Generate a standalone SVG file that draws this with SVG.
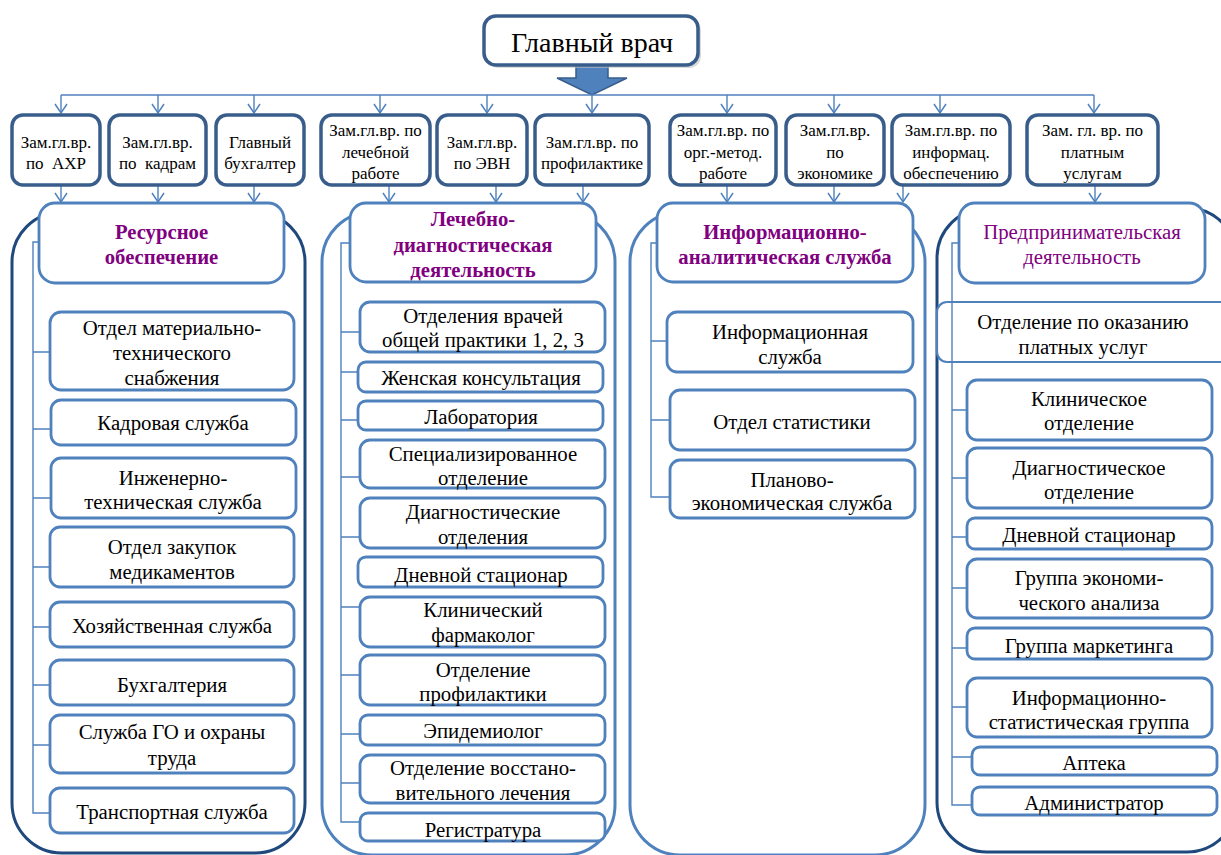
<svg xmlns="http://www.w3.org/2000/svg" width="1221" height="855" viewBox="0 0 1221 855">
<defs>
<style>
text{font-family:"Liberation Serif","Times New Roman",serif;fill:#000;text-anchor:middle}
.t{font-size:17px}
.i{font-size:20.8px}
.h{font-size:20.7px;fill:#800080;font-weight:bold}
.hn{font-size:20.8px;fill:#800080}
.top{fill:#fff;stroke:#385d8a;stroke-width:3.5}
.item{fill:#fff;stroke:#4f81bd;stroke-width:2.8}
.head{fill:#fff;stroke:#4f81bd;stroke-width:2.8}
.cd{fill:none;stroke:#1f497d;stroke-width:3}
.cl{fill:none;stroke:#4f81bd;stroke-width:3}
.ln{fill:none;stroke:#4f81bd;stroke-width:1.4}
.ar{fill:none;stroke:#4f81bd;stroke-width:1.4;marker-end:url(#v)}
</style>
<marker id="v" markerUnits="userSpaceOnUse" markerWidth="14" markerHeight="16" refX="10" refY="7" orient="auto" viewBox="0 0 14 14">
<path d="M1,1 L10,7 L1,13" fill="none" stroke="#4f81bd" stroke-width="1.5"/>
</marker>
</defs>
<rect width="1221" height="855" fill="#fff"/>

<!-- containers -->
<g id="containers">
<rect class="cd" x="12" y="212" width="293" height="641" rx="50"/>
<rect class="cl" x="322" y="212" width="293" height="643" rx="50"/>
<rect class="cl" x="630" y="212" width="295" height="643" rx="50"/>
<rect class="cd" x="937" y="208" width="300" height="644" rx="50"/>
</g>

<!-- connectors -->
<g id="connectors">
<polygon points="576,64 608,64 608,78 627,78 592,95 557,78 576,78" fill="#4f81bd" stroke="#385d8a" stroke-width="1.5"/>
<line class="ln" x1="61" y1="95" x2="1094" y2="95"/>
<line class="ar" x1="61" y1="95" x2="61" y2="113"/>
<line class="ar" x1="158" y1="95" x2="158" y2="113"/>
<line class="ar" x1="254" y1="95" x2="254" y2="113"/>
<line class="ar" x1="380" y1="95" x2="380" y2="113"/>
<line class="ar" x1="487" y1="95" x2="487" y2="113"/>
<line class="ar" x1="592" y1="95" x2="592" y2="113"/>
<line class="ar" x1="727" y1="95" x2="727" y2="113"/>
<line class="ar" x1="834" y1="95" x2="834" y2="113"/>
<line class="ar" x1="940" y1="95" x2="940" y2="113"/>
<line class="ar" x1="1094" y1="95" x2="1094" y2="113"/>

<line class="ar" x1="61" y1="186" x2="61" y2="202"/>
<line class="ar" x1="158" y1="186" x2="158" y2="202"/>
<line class="ar" x1="254" y1="186" x2="254" y2="202"/>
<line class="ar" x1="389" y1="186" x2="389" y2="202"/>
<line class="ar" x1="496" y1="186" x2="496" y2="202"/>
<line class="ar" x1="583" y1="186" x2="583" y2="202"/>
<line class="ar" x1="727" y1="186" x2="727" y2="202"/>
<line class="ar" x1="834" y1="186" x2="834" y2="202"/>
<line class="ar" x1="903" y1="186" x2="903" y2="202"/>
<line class="ar" x1="1095" y1="186" x2="1095" y2="202"/>

<path class="ln" d="M39,242 H33 V813 H50 M33,352 H50 M33,429 H51 M33,498 H51 M33,567 H50 M33,627 H50 M33,685 H50 M33,745 H50"/>
<path class="ln" d="M350,243 H341 V822 H360 M341,332 H360 M341,372 H358 M341,420 H358 M341,477 H360 M341,537 H360 M341,607 H360 M341,675 H360 M341,734 H360 M341,783 H360"/>
<path class="ln" d="M657,243 H651 V497 H670 M651,341 H667 M651,420 H670"/>
</g>

<g id="n-glav">
<rect x="487" y="19" width="214" height="49" rx="12" fill="#bfbfbf" opacity="0.6"/>
<rect class="top" x="484" y="16" width="214" height="49" rx="12" stroke-width="3"/>
<text x="592" y="52" style="font-size:28px">Главный врач</text>
</g>

<g id="n-axr"><rect class="top" x="12" y="115" width="88" height="70" rx="11"/><text class="t" x="56" y="148">Зам.гл.вр.</text><text class="t" x="56" y="169" xml:space="preserve">по  АХР</text></g>
<g id="n-kadr"><rect class="top" x="109" y="115" width="97" height="70" rx="11"/><text class="t" x="157.5" y="148">Зам.гл.вр.</text><text class="t" x="157.5" y="169" xml:space="preserve">по  кадрам</text></g>
<g id="n-buh"><rect class="top" x="216" y="115" width="88" height="70" rx="11"/><text class="t" x="260" y="148">Главный</text><text class="t" x="260" y="169">бухгалтер</text></g>
<g id="n-lech"><rect class="top" x="321" y="115" width="109" height="70" rx="11"/><text class="t" x="375.5" y="136">Зам.гл.вр. по</text><text class="t" x="375.5" y="158">лечебной</text><text class="t" x="375.5" y="179">работе</text></g>
<g id="n-evn"><rect class="top" x="437" y="115" width="90" height="70" rx="11"/><text class="t" x="482" y="148">Зам.гл.вр.</text><text class="t" x="482" y="169">по ЭВН</text></g>
<g id="n-prof"><rect class="top" x="535" y="115" width="114" height="70" rx="11"/><text class="t" x="592" y="148">Зам.гл.вр. по</text><text class="t" x="592" y="169">профилактике</text></g>
<g id="n-org"><rect class="top" x="670" y="115" width="106" height="70" rx="11"/><text class="t" x="723" y="136">Зам.гл.вр. по</text><text class="t" x="723" y="158">орг.-метод.</text><text class="t" x="723" y="179">работе</text></g>
<g id="n-econ"><rect class="top" x="786" y="115" width="98" height="70" rx="11"/><text class="t" x="835" y="136">Зам.гл.вр.</text><text class="t" x="835" y="158">по</text><text class="t" x="835" y="179">экономике</text></g>
<g id="n-inf"><rect class="top" x="892" y="115" width="118" height="70" rx="11"/><text class="t" x="951" y="136">Зам.гл.вр. по</text><text class="t" x="951" y="158">информац.</text><text class="t" x="951" y="179">обеспечению</text></g>
<g id="n-plat"><rect class="top" x="1027" y="115" width="131" height="70" rx="11"/><text class="t" x="1092.5" y="136">Зам. гл. вр. по</text><text class="t" x="1092.5" y="158">платным</text><text class="t" x="1092.5" y="179">услугам</text></g>

<!-- column 1 -->
<g id="h-res"><rect class="head" x="39" y="203" width="245" height="80" rx="16"/><text class="h" x="161.5" y="239">Ресурсное</text><text class="h" x="161.5" y="264">обеспечение</text></g>
<g id="c1-1"><rect class="item" x="50" y="312" width="244" height="78" rx="11"/><text class="i" x="172" y="335">Отдел материально-</text><text class="i" x="172" y="360">технического</text><text class="i" x="172" y="385">снабжения</text></g>
<g id="c1-2"><rect class="item" x="51" y="400" width="245" height="45" rx="10"/><text class="i" x="173" y="430">Кадровая служба</text></g>
<g id="c1-3"><rect class="item" x="51" y="458" width="245" height="60" rx="10"/><text class="i" x="173" y="485">Инженерно-</text><text class="i" x="173" y="509">техническая служба</text></g>
<g id="c1-4"><rect class="item" x="50" y="527" width="244" height="60" rx="10"/><text class="i" x="172" y="554">Отдел закупок</text><text class="i" x="172" y="579">медикаментов</text></g>
<g id="c1-5"><rect class="item" x="50" y="602" width="244" height="45" rx="10"/><text class="i" x="172" y="633">Хозяйственная служба</text></g>
<g id="c1-6"><rect class="item" x="50" y="660" width="244" height="45" rx="10"/><text class="i" x="172" y="692">Бухгалтерия</text></g>
<g id="c1-7"><rect class="item" x="50" y="715" width="244" height="58" rx="10"/><text class="i" x="172" y="739">Служба ГО и охраны</text><text class="i" x="172" y="765">труда</text></g>
<g id="c1-8"><rect class="item" x="50" y="788" width="244" height="45" rx="10"/><text class="i" x="172" y="819">Транспортная служба</text></g>

<!-- column 2 -->
<g id="h-lech"><rect class="head" x="350" y="203" width="246" height="79" rx="16"/><text class="h" x="473" y="226">Лечебно-</text><text class="h" x="473" y="252">диагностическая</text><text class="h" x="473" y="277">деятельность</text></g>
<g id="c2-1"><rect class="item" x="360" y="302" width="245" height="50" rx="10"/><text class="i" x="483" y="323">Отделения врачей</text><text class="i" x="483" y="347">общей практики 1, 2, 3</text></g>
<g id="c2-2"><rect class="item" x="358" y="362" width="245" height="30" rx="8"/><text class="i" x="481" y="385">Женская консультация</text></g>
<g id="c2-3"><rect class="item" x="358" y="401" width="245" height="29" rx="8"/><text class="i" x="481" y="424">Лаборатория</text></g>
<g id="c2-4"><rect class="item" x="360" y="440" width="245" height="48" rx="10"/><text class="i" x="483" y="461">Специализированное</text><text class="i" x="483" y="485">отделение</text></g>
<g id="c2-5"><rect class="item" x="360" y="498" width="245" height="50" rx="10"/><text class="i" x="483" y="519">Диагностические</text><text class="i" x="483" y="544">отделения</text></g>
<g id="c2-6"><rect class="item" x="358" y="557" width="245" height="30" rx="8"/><text class="i" x="481" y="582">Дневной стационар</text></g>
<g id="c2-7"><rect class="item" x="360" y="597" width="245" height="50" rx="10"/><text class="i" x="483" y="617">Клинический</text><text class="i" x="483" y="642">фармаколог</text></g>
<g id="c2-8"><rect class="item" x="360" y="655" width="245" height="50" rx="10"/><text class="i" x="483" y="677">Отделение</text><text class="i" x="483" y="701">профилактики</text></g>
<g id="c2-9"><rect class="item" x="360" y="715" width="245" height="30" rx="8"/><text class="i" x="483" y="738">Эпидемиолог</text></g>
<g id="c2-10"><rect class="item" x="360" y="755" width="245" height="48" rx="10"/><text class="i" x="483" y="775">Отделение восстано-</text><text class="i" x="483" y="800">вительного лечения</text></g>
<g id="c2-11"><rect class="item" x="360" y="813" width="245" height="28" rx="8"/><text class="i" x="483" y="837">Регистратура</text></g>

<!-- column 3 -->
<g id="h-info"><rect class="head" x="657" y="203" width="256" height="79" rx="16"/><text class="h" x="785" y="239">Информационно-</text><text class="h" x="785" y="264">аналитическая служба</text></g>
<g id="c3-1"><rect class="item" x="667" y="312" width="246" height="60" rx="10"/><text class="i" x="790" y="339">Информационная</text><text class="i" x="790" y="364">служба</text></g>
<g id="c3-2"><rect class="item" x="670" y="390" width="245" height="60" rx="10"/><text class="i" x="792" y="429">Отдел статистики</text></g>
<g id="c3-3"><rect class="item" x="670" y="460" width="245" height="58" rx="10"/><text class="i" x="792" y="487">Планово-</text><text class="i" x="792" y="510">экономическая служба</text></g>

<!-- column 4 -->
<g id="h-pred"><rect class="head" x="959" y="203" width="246" height="80" rx="16"/><text class="hn" x="1082" y="239">Предпринимательская</text><text class="hn" x="1082" y="264">деятельность</text></g>
<g id="c4-0"><rect class="item" x="937" y="302" width="300" height="60" rx="10" style="stroke-width:2.2"/><text class="i" x="1083" y="329">Отделение по оказанию</text><text class="i" x="1083" y="354">платных услуг</text></g>
<g id="c4-1"><rect class="item" x="967" y="380" width="245" height="60" rx="10"/><text class="i" x="1089" y="406">Клиническое</text><text class="i" x="1089" y="430">отделение</text></g>
<g id="c4-2"><rect class="item" x="967" y="448" width="245" height="60" rx="10"/><text class="i" x="1089" y="475">Диагностическое</text><text class="i" x="1089" y="499">отделение</text></g>
<g id="c4-3"><rect class="item" x="967" y="518" width="245" height="31" rx="8"/><text class="i" x="1089" y="542">Дневной стационар</text></g>
<g id="c4-4"><rect class="item" x="967" y="559" width="245" height="59" rx="10"/><text class="i" x="1089" y="585">Группа экономи-</text><text class="i" x="1089" y="610">ческого анализа</text></g>
<g id="c4-5"><rect class="item" x="967" y="628" width="245" height="31" rx="8"/><text class="i" x="1089" y="653">Группа маркетинга</text></g>
<g id="c4-6"><rect class="item" x="967" y="678" width="245" height="59" rx="10"/><text class="i" x="1089" y="705">Информационно-</text><text class="i" x="1089" y="729">статистическая группа</text></g>
<g id="c4-7"><rect class="item" x="972" y="747" width="245" height="28" rx="8"/><text class="i" x="1094" y="770">Аптека</text></g>
<g id="c4-8"><rect class="item" x="972" y="787" width="245" height="28" rx="8"/><text class="i" x="1094" y="810">Администратор</text></g>

<g id="connectors-4">
<path class="ln" d="M959,243 H952 V805 H972 M952,410 H967 M952,478 H967 M952,537 H967 M952,588 H967 M952,648 H967 M952,707 H967 M952,757 H972"/>
</g>
</svg>
